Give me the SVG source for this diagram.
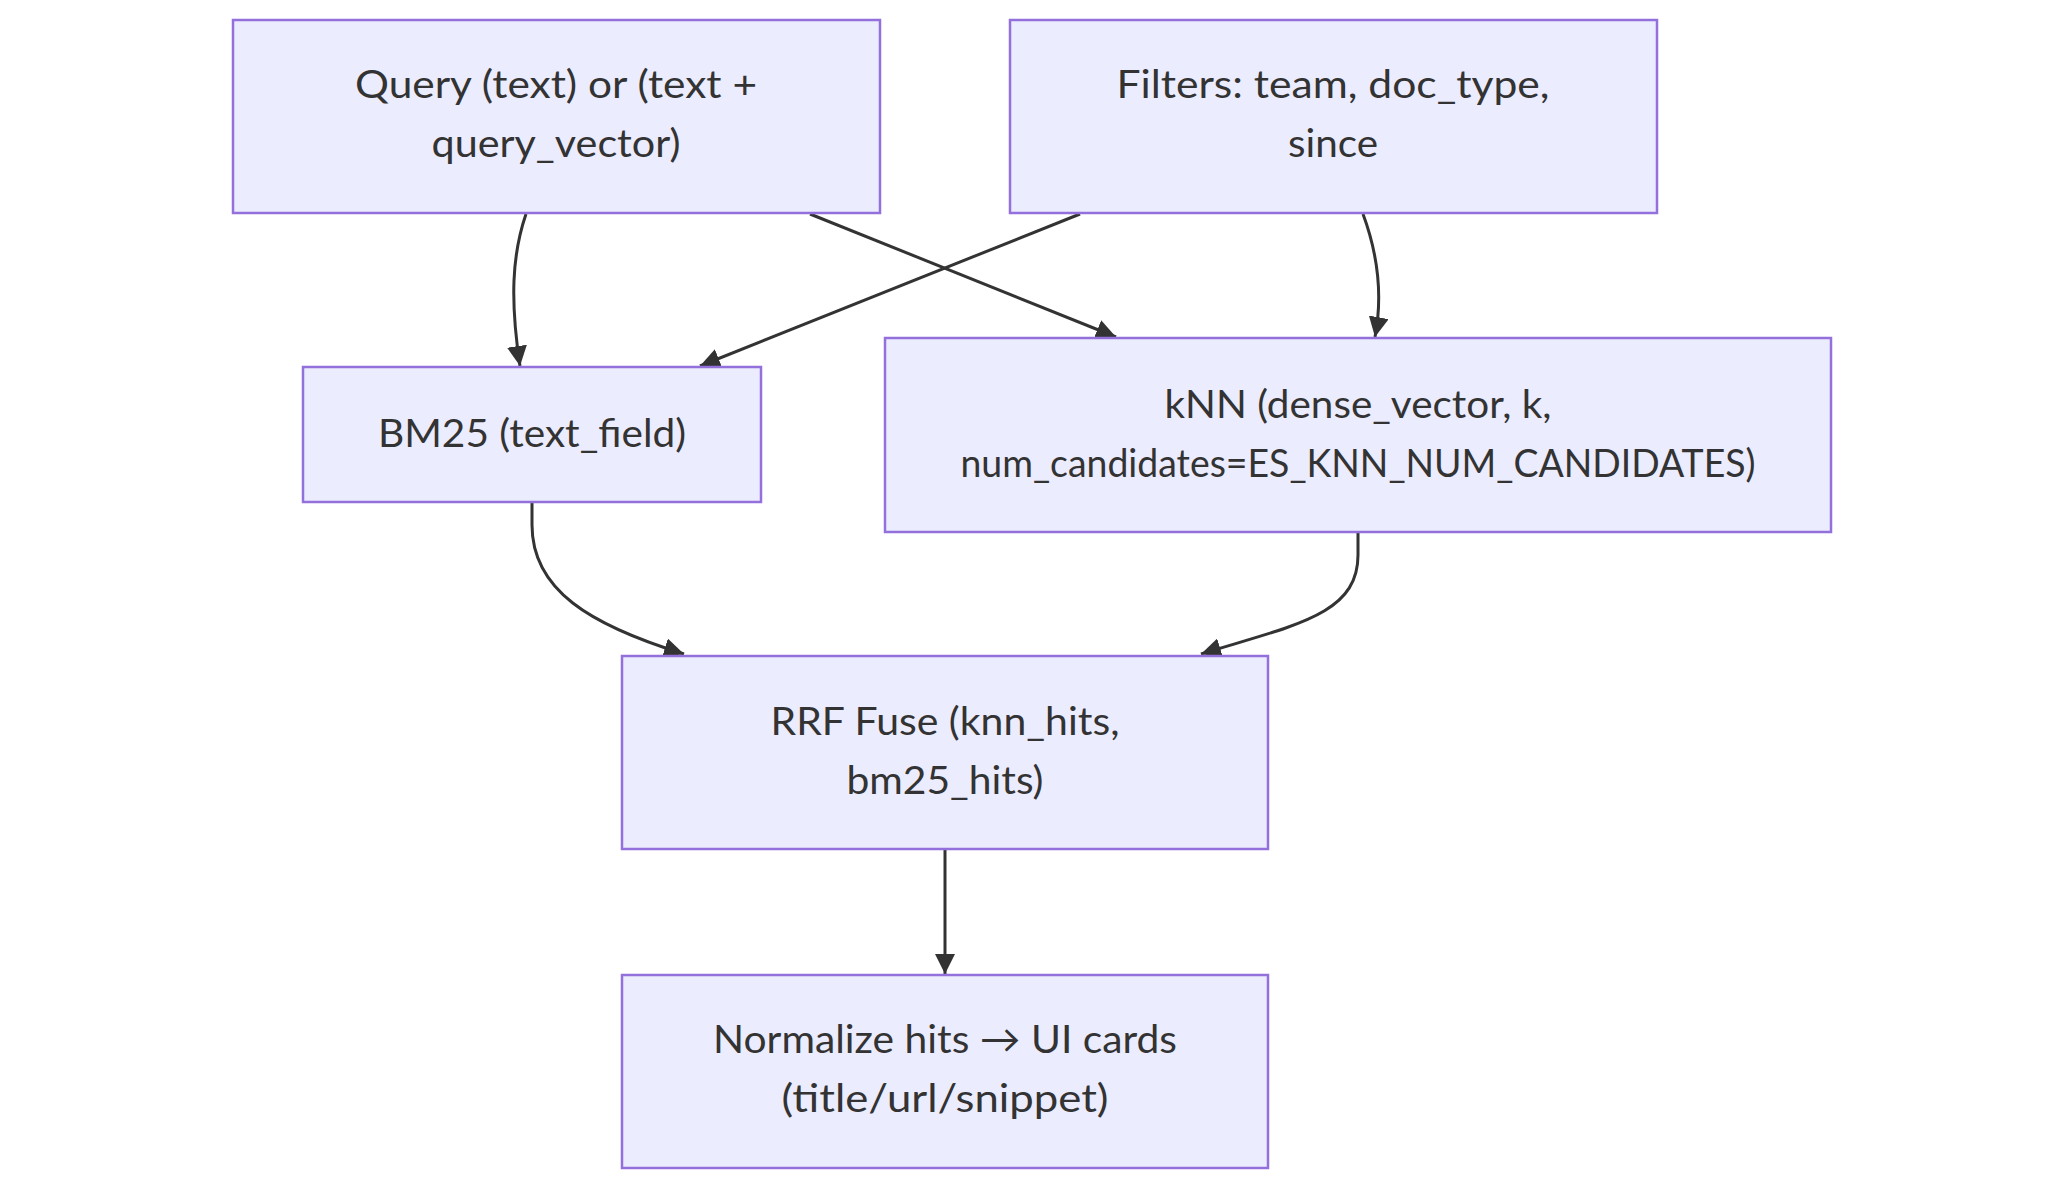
<svg xmlns="http://www.w3.org/2000/svg" width="2065" height="1188" viewBox="0 0 2065 1188">
<style>
.node rect{fill:#ECECFF;stroke:#9370DB;stroke-width:2.5}
.node text{font-family:Lato,"Liberation Sans",sans-serif;font-size:39px;fill:#333;text-anchor:middle}
.edge{fill:none;stroke:#333;stroke-width:3}
</style>
<defs>
<marker id="arr" viewBox="0 0 10 10" refX="10" refY="5" markerUnits="userSpaceOnUse" markerWidth="20" markerHeight="20" orient="auto">
<path d="M0,0 L10,5 L0,10 z" fill="#333"/>
</marker>
</defs>
<rect width="2065" height="1188" fill="#fff"/>
<g id="edges">
<path class="edge" d="M526,214 C512,255 510,300 520,366" marker-end="url(#arr)"/>
<path class="edge" d="M810,214 L1116,337" marker-end="url(#arr)"/>
<path class="edge" d="M1080,214 L700,366" marker-end="url(#arr)"/>
<path class="edge" d="M1363,214 C1380,260 1382,300 1375,337" marker-end="url(#arr)"/>
<path class="edge" d="M532,503 L532,525 C532,590 590,625 684,654" marker-end="url(#arr)"/>
<path class="edge" d="M1358,533 L1358,555 C1358,615 1295,625 1201,654" marker-end="url(#arr)"/>
<path class="edge" d="M945,850 L945,974" marker-end="url(#arr)"/>
</g>
<g id="query" class="node">
<rect x="233" y="20" width="647" height="193"/>
<text x="556" y="98" textLength="402" lengthAdjust="spacingAndGlyphs">Query (text) or (text +</text>
<text x="556" y="157" textLength="249" lengthAdjust="spacingAndGlyphs">query_vector)</text>
</g>
<g id="filters" class="node">
<rect x="1010" y="20" width="647" height="193"/>
<text x="1333" y="98" textLength="433" lengthAdjust="spacingAndGlyphs">Filters: team, doc_type,</text>
<text x="1333" y="157" textLength="90" lengthAdjust="spacingAndGlyphs">since</text>
</g>
<g id="bm25" class="node">
<rect x="303" y="367" width="458" height="135"/>
<text x="532" y="447" textLength="308" lengthAdjust="spacingAndGlyphs">BM25 (text_field)</text>
</g>
<g id="knn" class="node">
<rect x="885" y="338" width="946" height="194"/>
<text x="1358" y="418" textLength="387" lengthAdjust="spacingAndGlyphs">kNN (dense_vector, k,</text>
<text x="1358" y="477" textLength="795" lengthAdjust="spacingAndGlyphs">num_candidates=ES_KNN_NUM_CANDIDATES)</text>
</g>
<g id="rrf" class="node">
<rect x="622" y="656" width="646" height="193"/>
<text x="945" y="735" textLength="349" lengthAdjust="spacingAndGlyphs">RRF Fuse (knn_hits,</text>
<text x="945" y="794" textLength="197" lengthAdjust="spacingAndGlyphs">bm25_hits)</text>
</g>
<g id="normalize" class="node">
<rect x="622" y="975" width="646" height="193"/>
<text x="945" y="1053" textLength="464" lengthAdjust="spacingAndGlyphs">Normalize hits → UI cards</text>
<text x="945" y="1112" textLength="327" lengthAdjust="spacingAndGlyphs">(title/url/snippet)</text>
</g>
</svg>
